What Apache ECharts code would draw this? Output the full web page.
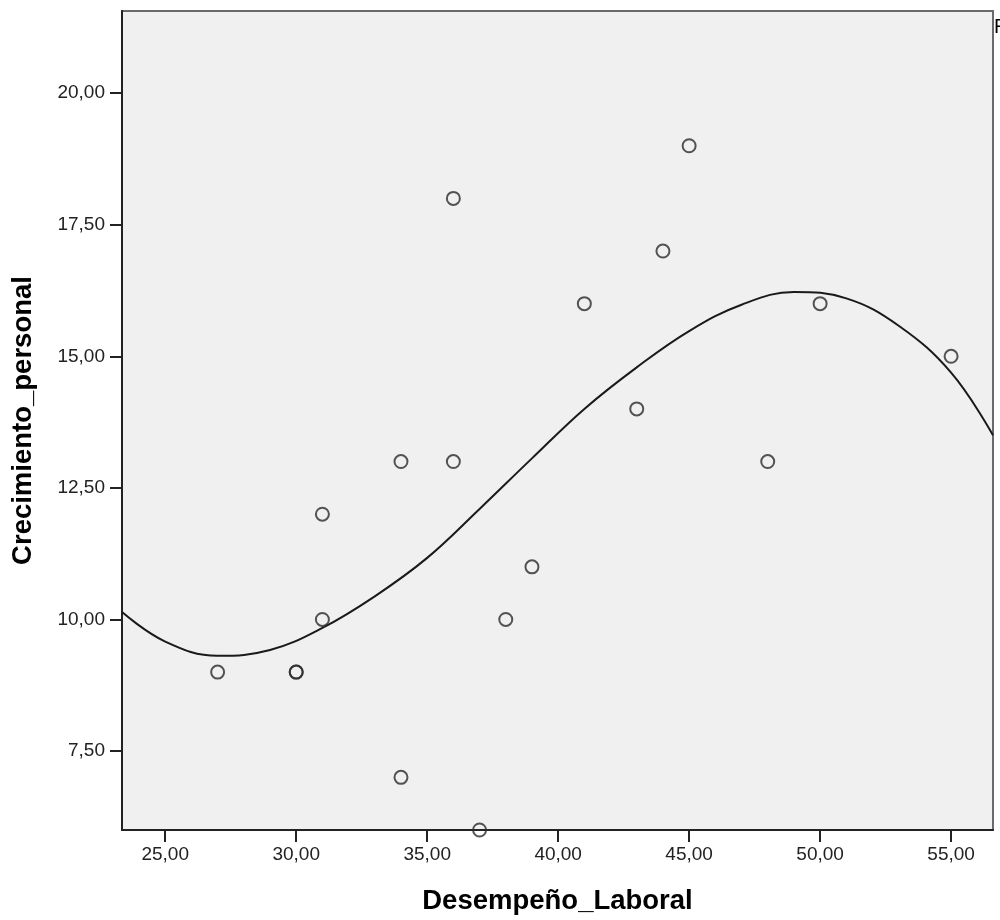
<!DOCTYPE html>
<html>
<head>
<meta charset="utf-8">
<script src="https://cdn.jsdelivr.net/npm/echarts@6/dist/echarts.min.js"></script>
<style>
html,body{margin:0;padding:0;background:#fff;}
#chart{width:1000px;height:920px;}
</style>
</head>
<body>
<div id="chart"></div>
<script>
// Observed points: Desempeño_Laboral (x) vs Crecimiento_personal (y)
const desempeno = [27, 30, 30, 31, 31, 34, 34, 36, 36, 37, 38, 39, 41, 43, 44, 45, 48, 50, 55];
const crecimiento = [9, 9, 9, 12, 10, 13, 7, 18, 13, 6, 10, 11, 16, 14, 17, 19, 13, 16, 15];

// Cubic fit line
const curveX = [23.35, 25, 27, 29, 31, 33, 35, 37, 39, 41, 43, 45, 47, 49, 51, 53, 55, 56.6];
const curveY = [10.14, 9.58, 9.31, 9.42, 9.84, 10.44, 11.17, 12.10, 13.06, 14.00, 14.79, 15.48, 15.98, 16.22, 16.10, 15.58, 14.69, 13.50];

const xTicks = [25, 30, 35, 40, 45, 50, 55];
const yTicks = [7.5, 10, 12.5, 15, 17.5, 20];

const FONT = '"Liberation Sans", Arial, sans-serif';
const fmt = v => v.toFixed(2).replace('.', ',');

const chart = echarts.init(document.getElementById('chart'), null, {renderer: 'canvas'});
chart.setOption({
  backgroundColor: '#ffffff',
  animation: false,
  graphic: [{
    type: 'text',
    x: 994, y: 17,
    style: {text: 'R', font: '20px "Liberation Sans", Arial, sans-serif', fill: '#000'}
  }],
  grid: {
    left: 122, right: 7, top: 11, bottom: 90,
    show: true,
    backgroundColor: '#f0f0f0',
    borderColor: '#6a6a6a',
    borderWidth: 2
  },
  xAxis: {
    type: 'value',
    min: 23.35, max: 56.6,
    name: 'Desempeño_Laboral',
    nameLocation: 'middle',
    nameGap: 57,
    nameTextStyle: {fontFamily: FONT, fontSize: 27.5, fontWeight: 'bold', color: '#000'},
    axisLine: {show: true, onZero: false, lineStyle: {color: '#222', width: 2}},
    axisTick: {show: true, length: 12, customValues: xTicks, lineStyle: {color: '#222', width: 2}},
    axisLabel: {customValues: xTicks, formatter: fmt, margin: 15, fontFamily: FONT, fontSize: 19, color: '#222'},
    splitLine: {show: false}
  },
  yAxis: {
    type: 'value',
    min: 6.0, max: 21.56,
    name: 'Crecimiento_personal',
    nameLocation: 'middle',
    nameGap: 85,
    nameTextStyle: {fontFamily: FONT, fontSize: 27.5, fontWeight: 'bold', color: '#000'},
    axisLine: {show: true, onZero: false, lineStyle: {color: '#222', width: 2}},
    axisTick: {show: true, length: 12, customValues: yTicks, lineStyle: {color: '#222', width: 2}},
    axisLabel: {customValues: yTicks, formatter: fmt, margin: 17, fontFamily: FONT, fontSize: 19, color: '#222'},
    splitLine: {show: false}
  },
  series: [
    {
      type: 'line',
      data: curveX.map((x, i) => [x, curveY[i]]),
      smooth: 0.4,
      showSymbol: false,
      clip: true,
      lineStyle: {color: '#1a1a1a', width: 2},
      z: 2
    },
    {
      type: 'scatter',
      data: desempeno.map((x, i) => [x, crecimiento[i]]),
      symbol: 'circle',
      symbolSize: 13,
      clip: true,
      itemStyle: {color: 'rgba(0,0,0,0)', borderColor: '#2a2a2a', borderWidth: 2},
      z: 3
    }
  ]
});
</script>
</body>
</html>
